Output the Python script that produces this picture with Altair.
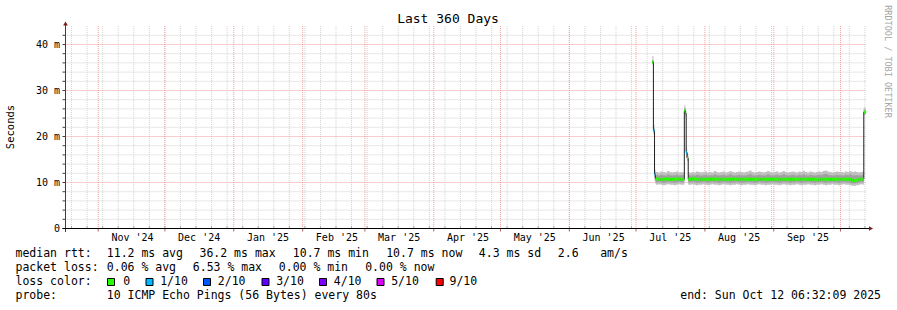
import altair as alt
import pandas as pd

MONO = "DejaVu Sans Mono"

# ---------------- layout ----------------
W, H = 800, 202.4
PAD_L, PAD_T = 65.5, 26.1
PAD_R = 897 - W - PAD_L
PAD_B = 310 - H - PAD_T

START = alt.DateTime(year=2024, month=10, date=17, hours=6, minutes=32, seconds=9, utc=True)
END = alt.DateTime(year=2025, month=10, date=12, hours=6, minutes=32, seconds=9, utc=True)
END_ISO = "2025-10-12T06:32:09Z"
Y_MAX = 44

# ---------------- data ----------------
# irregular samples (spikes / transitions)
spike_t = ["2025-07-08T08:00:00Z", "2025-07-08T20:00:00Z", "2025-07-09T08:00:00Z",
           "2025-07-09T18:00:00Z", "2025-07-22T12:00:00Z", "2025-07-22T18:00:00Z",
           "2025-07-23T06:00:00Z", "2025-07-23T14:00:00Z", "2025-07-24T00:00:00Z",
           "2025-07-24T12:00:00Z", "2025-10-11T12:00:00Z", "2025-10-12T06:00:00Z"]
spike_med = [36.2, 21.3, 11.8, 10.8, 10.7, 25.6, 25.0, 16.5, 15.3, 10.7, 25.3, 25.3]
spike_loss = [0, 1, 1, 0, 0, 0, 0, 1, 0, 0, 0, 0]
spike_lo = [35.6, 20.4, 10.4, 9.6, 9.5, 24.9, 24.3, 15.4, 14.6, 9.5, 24.6, 24.6]
spike_hi = [37.5, 22.6, 12.8, 12.4, 12.3, 26.8, 25.9, 17.6, 16.3, 12.3, 26.3, 26.3]
spike_ilo = [35.9, 20.9, 11.0, 10.1, 10.0, 25.2, 24.6, 15.9, 14.9, 10.0, 24.9, 24.9]
spike_ihi = [36.6, 21.8, 12.2, 11.6, 11.6, 26.2, 25.5, 17.0, 15.8, 11.6, 25.8, 25.8]

# daily samples: Jul 10-22 and Jul 25 - Oct 11
daily_t = ([d.strftime("%Y-%m-%dT00:00:00Z") for d in pd.date_range("2025-07-10", "2025-07-22")] +
           [d.strftime("%Y-%m-%dT00:00:00Z") for d in pd.date_range("2025-07-25", "2025-10-11")])

daily_med = ([10.8, 10.7, 10.7, 10.7, 10.8, 10.7, 10.7, 10.7, 10.7, 10.8, 10.7, 10.7, 10.7] +
             [10.7, 10.8, 10.8, 10.7, 10.7, 10.7, 10.7] +
             [10.7, 10.7, 10.7, 10.7, 10.8, 10.7, 10.7, 10.7, 10.7, 10.7,
              10.7, 10.7, 10.7, 10.8, 10.7, 10.7, 10.7, 10.7, 10.7, 10.7,
              10.7, 10.7, 10.7, 10.7, 10.7, 10.7, 10.7, 10.7, 10.7, 10.7, 10.7] +
             [10.7, 10.7, 10.7, 10.7, 10.7, 10.7, 10.7, 10.7, 10.7, 10.7,
              10.7, 10.7, 10.7, 10.7, 10.7, 10.7, 10.7, 10.7, 10.7, 10.7,
              10.6, 10.7, 10.7, 10.7, 10.7, 10.7, 10.7, 10.7, 10.7, 10.7] +
             [10.7, 10.7, 10.7, 10.7, 10.7, 10.5, 10.4, 10.5, 10.7, 10.7, 10.7])

daily_hi = ([12.3, 12.2, 12.4, 12.3, 12.2, 12.5, 12.3, 12.2, 12.3, 12.4, 12.2, 12.3, 12.2] +
            [12.1, 12.3, 12.2, 12.4, 12.3, 12.2, 12.3] +
            [12.4, 12.2, 12.3, 12.2, 12.5, 12.3, 12.2, 12.3, 12.4, 12.2,
             12.3, 12.5, 12.3, 12.2, 12.3, 12.4, 12.3, 12.2, 12.3, 12.4,
             12.6, 12.3, 12.2, 12.3, 12.4, 12.3, 12.2, 12.3, 12.5, 12.3, 12.2] +
            [12.3, 12.4, 12.2, 12.3, 12.5, 12.3, 12.2, 12.3, 12.4, 12.3,
             12.2, 12.4, 12.3, 12.5, 12.3, 12.2, 12.4, 12.3, 12.2, 12.3,
             12.4, 12.3, 12.5, 12.6, 12.4, 12.3, 12.2, 12.3, 12.4, 12.3] +
            [12.3, 12.2, 12.4, 12.3, 12.5, 12.3, 12.4, 12.3, 12.2, 12.3, 12.4])

daily_lo = ([9.5, 9.6, 9.5, 9.4, 9.5, 9.6, 9.5, 9.5, 9.4, 9.5, 9.6, 9.5, 9.5] +
            [9.5, 9.6, 9.5, 9.4, 9.5, 9.5, 9.6] +
            [9.5, 9.4, 9.5, 9.6, 9.5, 9.5, 9.4, 9.5, 9.6, 9.5,
             9.5, 9.4, 9.5, 9.5, 9.6, 9.5, 9.4, 9.5, 9.5, 9.6,
             9.5, 9.5, 9.4, 9.5, 9.6, 9.5, 9.5, 9.4, 9.5, 9.5, 9.6] +
            [9.5, 9.5, 9.4, 9.5, 9.6, 9.5, 9.5, 9.4, 9.5, 9.5,
             9.6, 9.5, 9.4, 9.5, 9.5, 9.6, 9.5, 9.5, 9.4, 9.5,
             9.5, 9.6, 9.5, 9.4, 9.5, 9.5, 9.6, 9.5, 9.5, 9.4] +
            [9.5, 9.6, 9.5, 9.5, 9.4, 9.3, 9.3, 9.4, 9.5, 9.6, 9.5])

daily_ihi = ([11.6, 11.5, 11.7, 11.6, 11.5, 11.8, 11.6, 11.5, 11.6, 11.7, 11.5, 11.6, 11.5] +
             [11.5, 11.6, 11.5, 11.7, 11.6, 11.5, 11.6] +
             [11.7, 11.5, 11.6, 11.5, 11.8, 11.6, 11.5, 11.6, 11.7, 11.5,
              11.6, 11.8, 11.6, 11.5, 11.6, 11.7, 11.6, 11.5, 11.6, 11.7,
              11.9, 11.6, 11.5, 11.6, 11.7, 11.6, 11.5, 11.6, 11.8, 11.6, 11.5] +
             [11.6, 11.7, 11.5, 11.6, 11.8, 11.6, 11.5, 11.6, 11.7, 11.6,
              11.5, 11.7, 11.6, 11.8, 11.6, 11.5, 11.7, 11.6, 11.5, 11.6,
              11.7, 11.6, 11.8, 11.9, 11.7, 11.6, 11.5, 11.6, 11.7, 11.6] +
             [11.6, 11.5, 11.7, 11.6, 11.8, 11.5, 11.6, 11.6, 11.5, 11.6, 11.7])

daily_ilo = ([10.0, 10.1, 10.0, 9.9, 10.0, 10.1, 10.0, 10.0, 9.9, 10.0, 10.1, 10.0, 10.0] +
             [10.0, 10.1, 10.0, 9.9, 10.0, 10.0, 10.1] +
             [10.0, 9.9, 10.0, 10.1, 10.0, 10.0, 9.9, 10.0, 10.1, 10.0,
              10.0, 9.9, 10.0, 10.0, 10.1, 10.0, 9.9, 10.0, 10.0, 10.1,
              10.0, 10.0, 9.9, 10.0, 10.1, 10.0, 10.0, 9.9, 10.0, 10.0, 10.1] +
             [10.0, 10.0, 9.9, 10.0, 10.1, 10.0, 10.0, 9.9, 10.0, 10.0,
              10.1, 10.0, 9.9, 10.0, 10.0, 10.1, 10.0, 10.0, 9.9, 10.0,
              10.0, 10.1, 10.0, 9.9, 10.0, 10.0, 10.1, 10.0, 10.0, 9.9] +
             [10.0, 10.1, 10.0, 10.0, 9.9, 9.8, 9.8, 9.9, 10.0, 10.1, 10.0])

daily_loss = [0] * len(daily_t)

loss_codes = [0, 1, 2, 3, 4, 5, 9]
loss_labels = ["0", "1/10", "2/10", "3/10", "4/10", "5/10", "9/10"]
loss_colors = ["#26ff00", "#00b8ff", "#0059ff", "#5e00ff", "#7e00ff", "#dd00ff", "#ff0000"]

y_ticks = [0, 2, 4, 6, 8, 10, 12, 14, 16, 18, 20, 22, 24, 26, 28, 30, 32, 34, 36, 38, 40, 42]
y_major = [0, 10, 20, 30, 40]
y_labels = ["0", "10 m", "20 m", "30 m", "40 m"]
month_starts = ["2024-11-01", "2024-12-01", "2025-01-01", "2025-02-01", "2025-03-01", "2025-04-01",
                "2025-05-01", "2025-06-01", "2025-07-01", "2025-08-01", "2025-09-01"]
month_labels = ["Nov '24", "Dec '24", "Jan '25", "Feb '25", "Mar '25", "Apr '25",
                "May '25", "Jun '25", "Jul '25", "Aug '25", "Sep '25"]

title_text = "Last 360 Days"
y_title = "Seconds"
side_text = "RRDTOOL / TOBI OETIKER"
rtt_stats = ["median rtt:", "11.2 ms avg", "36.2 ms max", "10.7 ms min", "10.7 ms now", "4.3 ms sd", "2.6", "am/s"]
loss_stats = ["packet loss:", "0.06 % avg", "6.53 % max", "0.00 % min", "0.00 % now"]
probe_text = ["probe:", "10 ICMP Echo Pings (56 Bytes) every 80s"]
end_text = "end: Sun Oct 12 06:32:09 2025"

# ---------------- tables ----------------
df = pd.DataFrame({
    "t": spike_t + daily_t,
    "med": spike_med + daily_med,
    "loss": spike_loss + daily_loss,
    "lo": spike_lo + daily_lo,
    "hi": spike_hi + daily_hi,
    "ilo": spike_ilo + daily_ilo,
    "ihi": spike_ihi + daily_ihi,
}).sort_values("t").reset_index(drop=True)
df["t2"] = df["t"].shift(-1).fillna(END_ISO)

weeks = pd.DataFrame({"t": [d.strftime("%Y-%m-%dT00:00:00Z")
                            for d in pd.date_range("2024-10-18", "2025-10-12", freq="W-SUN")]})
months = pd.DataFrame({"t": [d + "T00:00:00Z" for d in month_starts] + ["2025-10-01T00:00:00Z"]})
mlab = pd.DataFrame({"t": [(pd.Timestamp(d) + pd.Timedelta(hours=370)).strftime("%Y-%m-%dT%H:%M:%SZ")
                           for d in month_starts],
                     "lab": month_labels})
yminor = pd.DataFrame({"v": [v for v in y_ticks if v % 10 != 0]})
ymajor = pd.DataFrame({"v": [v for v in y_major if v > 0]})
ylab = pd.DataFrame({"v": y_major, "lab": y_labels})
ytk = pd.DataFrame({"v": y_ticks})
dummy = pd.DataFrame({"k": [0]})

xscale = alt.Scale(type="utc", domain=[START, END])
yscale = alt.Scale(domain=[0, Y_MAX], nice=False, zero=True)
X = lambda f: alt.X(f, scale=xscale, axis=None)
Y = lambda f: alt.Y(f, scale=yscale, axis=None)

# ---------------- layers ----------------
smoke_outer = alt.Chart(df).mark_area(color="#c0c0c0", interpolate="step-after").encode(
    x=X("t:T"), y=Y("lo:Q"), y2="hi:Q")
smoke_inner = alt.Chart(df).mark_area(color="#a0a0a0", interpolate="step-after").encode(
    x=X("t:T"), y=Y("ilo:Q"), y2="ihi:Q")

grid_wk = alt.Chart(weeks).mark_rule(color="#d0d0d0", strokeDash=[1, 1], strokeWidth=1).encode(x=X("t:T"))
grid_ym = alt.Chart(yminor).mark_rule(color="#d0d0d0", strokeDash=[1, 1], strokeWidth=1).encode(y=Y("v:Q"))
grid_mo = alt.Chart(months).mark_rule(color="#f39a9a", strokeDash=[1, 1], strokeWidth=1).encode(x=X("t:T"))
grid_yM = alt.Chart(ymajor).mark_rule(color="#f39a9a", strokeDash=[1, 1], strokeWidth=1).encode(y=Y("v:Q"))

med_line = alt.Chart(df).mark_line(color="#202020", strokeWidth=1, interpolate="step-after").encode(
    x=X("t:T"), y=Y("med:Q"))
med_loss = alt.Chart(df).mark_rule(strokeWidth=3).encode(
    x=X("t:T"), x2="t2:T", y=Y("med:Q"),
    color=alt.Color("loss:N", scale=alt.Scale(domain=loss_codes, range=loss_colors), legend=None))

wk_ticks = alt.Chart(weeks).mark_rule(color="#a8a8a8").encode(
    x=X("t:T"), y=alt.value(H - 2.5), y2=alt.value(H))
mo_ticks = alt.Chart(months).mark_rule(color="#b06060").encode(
    x=X("t:T"), y=alt.value(H), y2=alt.value(H + 3))
y_tick_marks = alt.Chart(ytk).mark_rule(color="#404040").encode(
    y=Y("v:Q"), x=alt.value(-3), x2=alt.value(0))
y_tick_labels = alt.Chart(ylab).mark_text(font=MONO, fontSize=10, align="right", baseline="middle",
                                          color="#000000").encode(
    y=Y("v:Q"), x=alt.value(-5.5), text="lab:N")
x_tick_labels = alt.Chart(mlab).mark_text(font=MONO, fontSize=10, align="center", baseline="middle",
                                          color="#000000").encode(
    x=X("t:T"), y=alt.value(H + 9.5), text="lab:N")

ax_y = alt.Chart(dummy).mark_rule(color="#404040").encode(
    x=alt.value(0), y=alt.value(H + 3.5), y2=alt.value(-2))
ax_x = alt.Chart(dummy).mark_rule(color="#000000").encode(
    x=alt.value(-3), x2=alt.value(W + 3.5), y=alt.value(H))
arr_y = alt.Chart(dummy).mark_point(shape="triangle-up", filled=True, color="#7a1c1c", size=22, opacity=1).encode(
    x=alt.value(0), y=alt.value(-2.6))
arr_x = alt.Chart(dummy).mark_point(shape="triangle-right", filled=True, color="#7a1c1c", size=22, opacity=1).encode(
    x=alt.value(W + 5.5), y=alt.value(H))


def txt(s, x, y, size=11.5, align="left", color="#000000", angle=0):
    return alt.Chart(dummy).mark_text(text=s, align=align, baseline="middle", fontSize=size,
                                      font=MONO, color=color, angle=angle).encode(
        x=alt.value(x - PAD_L), y=alt.value(y - PAD_T))


texts = [txt(title_text, 448, 19, size=13, align="center"),
         txt(y_title, 11, 127, size=10.5, align="center", angle=270),
         txt(side_text, 888, 61.5, size=8.5, align="center", color="#a6a6a6", angle=90)]

rtt_x = [15.5, 106.8, 199.5, 292.8, 386.2, 478.8, 557.8, 600.2]
for s, xx in zip(rtt_stats, rtt_x):
    texts.append(txt(s, xx, 254.3))
loss_x = [15.5, 106.8, 192.8, 278.8, 365.2]
for s, xx in zip(loss_stats, loss_x):
    texts.append(txt(s, xx, 268.3))
texts.append(txt("loss color:", 15.5, 282.3))
box_cx = [111, 149.5, 207, 265.5, 323, 380.5, 439.7]
lab_x = [123.2, 160.2, 217.8, 276.2, 333.8, 391.2, 449.5]
boxes = []
for cx, lx, lab, col in zip(box_cx, lab_x, loss_labels, loss_colors):
    boxes.append(alt.Chart(dummy).mark_rect(color=col, stroke="#000000", strokeWidth=1).encode(
        x=alt.value(cx - 3.5 - PAD_L), x2=alt.value(cx + 3.5 - PAD_L),
        y=alt.value(278.5 - PAD_T), y2=alt.value(285.5 - PAD_T)))
    texts.append(txt(lab, lx, 282.3))
texts.append(txt(probe_text[0], 15.5, 296.3))
texts.append(txt(probe_text[1], 106.8, 296.3))
texts.append(txt(end_text, 881, 296.3, align="right"))

chart = alt.layer(
    grid_wk, grid_ym, grid_mo, grid_yM, smoke_outer, smoke_inner,
    med_line, med_loss, wk_ticks, mo_ticks, y_tick_marks, y_tick_labels, x_tick_labels,
    ax_y, ax_x, arr_y, arr_x,
    *boxes, *texts
).properties(
    width=W, height=H,
    autosize=alt.AutoSizeParams(type="none"),
    padding={"left": PAD_L, "top": PAD_T, "right": PAD_R, "bottom": PAD_B},
    background="#ffffff",
).configure_view(stroke=None)

chart.save("out.html", embed_options={"renderer": "svg", "actions": False})
